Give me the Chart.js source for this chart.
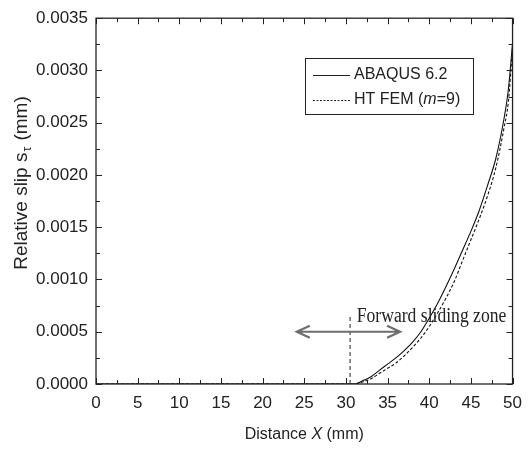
<!DOCTYPE html>
<html>
<head>
<meta charset="utf-8">
<script src="https://cdn.jsdelivr.net/npm/chart.js@4.4.1/dist/chart.umd.min.js"></script>
<style>
  html, body { margin: 0; padding: 0; background: #fff; }
  #wrap { width: 531px; height: 451px; }
</style>
</head>
<body>
<div id="wrap"><canvas id="chart" width="531" height="451"></canvas></div>
<script>
// distance along the contact (mm)
const distance = [0, 5, 10, 15, 20, 25, 30, 31, 32, 33, 34, 35, 36, 37, 38, 39, 40, 41, 42, 43, 44, 45, 46, 47, 48, 49, 49.5, 50];

// relative slip (mm)
const abaqus = [0, 0, 0, 0, 0, 0, 0, 0, 0.00003, 0.00007, 0.00013, 0.00019, 0.00025, 0.00032, 0.00040, 0.00050,
  0.00063, 0.00077, 0.00093, 0.00110, 0.00128, 0.00146, 0.00166, 0.00190, 0.00216, 0.00255, 0.00282, 0.00326];
const htFem = [0, 0, 0, 0, 0, 0, 0, 0, 0.00002, 0.00005, 0.00010, 0.00015, 0.00020, 0.00027, 0.00035, 0.00044,
  0.00055, 0.00068, 0.00082, 0.00098, 0.00118, 0.00138, 0.00158, 0.00180, 0.00207, 0.00246, 0.00270, 0.00322];

const seriesNames = ["ABAQUS 6.2", "HT FEM"];

// forward sliding zone annotation
const zoneStart = 30.5;     // dashed marker
const zoneMarkTop = 0.00066;
const arrowFrom = 24.1;
const arrowTo = 36.5;
const arrowLevel = 0.0005;
const zoneLabel = "Forward sliding zone";
const zoneLabelAt = [31.3, 0.00059];

const ink = "#222";
const sans = "'Liberation Sans', Arial, sans-serif";
const serif = "'Liberation Serif', 'Times New Roman', serif";

const toPoints = ys => distance.map((x, i) => ({ x, y: ys[i] }));

// frame with inward ticks on every side, titles, legend and annotation
const decorations = {
  id: "decorations",
  afterDraw(chart) {
    const { ctx, chartArea: a, scales } = chart;
    const xs = scales.x, ys = scales.y;
    ctx.save();
    ctx.strokeStyle = ink;
    ctx.lineWidth = 1.3;
    ctx.strokeRect(a.left, a.top, a.right - a.left, a.bottom - a.top);

    ctx.lineWidth = 1;
    ctx.beginPath();
    for (let v = 0; v <= 50.001; v += 2.5) {
      const px = Math.round(xs.getPixelForValue(v)) + 0.5;
      const len = (Math.round(v * 10) % 50 === 0) ? 6 : 4;
      ctx.moveTo(px, a.bottom); ctx.lineTo(px, a.bottom - len);
      ctx.moveTo(px, a.top); ctx.lineTo(px, a.top + len);
    }
    for (let k = 0; k <= 14; k++) {
      const py = Math.round(ys.getPixelForValue(k * 0.00025)) + 0.5;
      const len = k % 2 === 0 ? 6 : 4;
      ctx.moveTo(a.left, py); ctx.lineTo(a.left + len, py);
      ctx.moveTo(a.right, py); ctx.lineTo(a.right - len, py);
    }
    ctx.stroke();

    // annotation: dashed marker, double arrow, label
    const mx = xs.getPixelForValue(zoneStart);
    ctx.setLineDash([4, 3]);
    ctx.beginPath();
    ctx.moveTo(mx, ys.getPixelForValue(0));
    ctx.lineTo(mx, ys.getPixelForValue(zoneMarkTop));
    ctx.stroke();
    ctx.setLineDash([]);

    const ay = ys.getPixelForValue(arrowLevel);
    const x1 = xs.getPixelForValue(arrowFrom), x2 = xs.getPixelForValue(arrowTo);
    ctx.strokeStyle = "#6e6e6e";
    ctx.lineWidth = 2.2;
    ctx.beginPath();
    ctx.moveTo(x1, ay); ctx.lineTo(x2, ay);
    ctx.moveTo(x1 + 13, ay - 6); ctx.lineTo(x1, ay); ctx.lineTo(x1 + 13, ay + 6);
    ctx.moveTo(x2 - 13, ay - 6); ctx.lineTo(x2, ay); ctx.lineTo(x2 - 13, ay + 6);
    ctx.stroke();

    ctx.fillStyle = ink;
    ctx.font = "20px " + serif;
    ctx.textBaseline = "alphabetic";
    ctx.textAlign = "left";
    const lx = xs.getPixelForValue(zoneLabelAt[0]), ly = ys.getPixelForValue(zoneLabelAt[1]);
    ctx.save();
    ctx.translate(lx, ly);
    ctx.scale(0.88, 1);
    ctx.fillText(zoneLabel, 0, 0);
    ctx.restore();

    // x title
    ctx.textBaseline = "middle";
    const partsX = [["Distance ", "16px "], ["X", "italic 16px "], [" (mm)", "16px "]];
    let w = 0;
    partsX.forEach(p => { ctx.font = p[1] + sans; w += ctx.measureText(p[0]).width; });
    let tx = (a.left + a.right) / 2 - w / 2;
    partsX.forEach(p => { ctx.font = p[1] + sans; ctx.fillText(p[0], tx, 435); tx += ctx.measureText(p[0]).width; });

    // y title
    ctx.save();
    ctx.translate(22, 184);
    ctx.rotate(-Math.PI / 2);
    const base = "Relative slip s", tail = " (mm)";
    ctx.font = "19px " + sans;
    const wb = ctx.measureText(base).width, wt = ctx.measureText(tail).width;
    ctx.font = "12px " + sans;
    const ws = ctx.measureText("\u03c4").width;
    let sx = -(wb + ws + wt) / 2;
    ctx.font = "19px " + sans;
    ctx.fillText(base, sx, 0); sx += wb;
    ctx.font = "12px " + sans;
    ctx.fillText("\u03c4", sx + 1, 6); sx += ws + 2;
    ctx.font = "19px " + sans;
    ctx.fillText(tail, sx, 0);
    ctx.restore();

    // legend
    ctx.strokeStyle = ink;
    ctx.lineWidth = 1;
    ctx.strokeRect(305.5, 58.5, 168, 56);
    const rows = [[75, [], seriesNames[0], null], [100, [2, 1.5], seriesNames[1], true]];
    rows.forEach(([ry, dash, label, fem]) => {
      ctx.setLineDash(dash);
      ctx.beginPath();
      ctx.moveTo(313, ry + 0.5); ctx.lineTo(350, ry + 0.5);
      ctx.stroke();
      ctx.setLineDash([]);
      let px = 354;
      const bits = fem ? [[label + " (", "16px "], ["m", "italic 16px "], ["=9)", "16px "]] : [[label, "16px "]];
      bits.forEach(b => { ctx.font = b[1] + sans; ctx.fillText(b[0], px, ry); px += ctx.measureText(b[0]).width; });
    });
    ctx.restore();
  }
};

new Chart(document.getElementById("chart"), {
  type: "line",
  data: {
    datasets: [
      { label: seriesNames[0], data: toPoints(abaqus), borderColor: "#111", borderWidth: 1.1,
        pointRadius: 0, cubicInterpolationMode: "monotone" },
      { label: seriesNames[1], data: toPoints(htFem), borderColor: "#111", borderWidth: 1.1,
        borderDash: [3, 2], pointRadius: 0, cubicInterpolationMode: "monotone" }
    ]
  },
  options: {
    responsive: false,
    animation: false,
    layout: { padding: { top: 17, right: 16, left: 0, bottom: 0 } },
    plugins: { legend: { display: false }, tooltip: { enabled: false } },
    scales: {
      x: {
        type: "linear", min: 0, max: 50,
        grid: { display: false, drawTicks: false }, border: { display: false },
        ticks: { stepSize: 5, padding: 9, color: ink, font: { family: sans, size: 17 } },
        afterFit: s => { s.height = 67; }
      },
      y: {
        min: 0, max: 0.0035,
        grid: { display: false, drawTicks: false }, border: { display: false },
        ticks: { stepSize: 0.0005, padding: 8, color: ink, font: { family: sans, size: 17 },
          callback: v => v.toFixed(4) },
        afterFit: s => { s.width = 96; }
      }
    }
  },
  plugins: [decorations]
});
</script>
</body>
</html>
